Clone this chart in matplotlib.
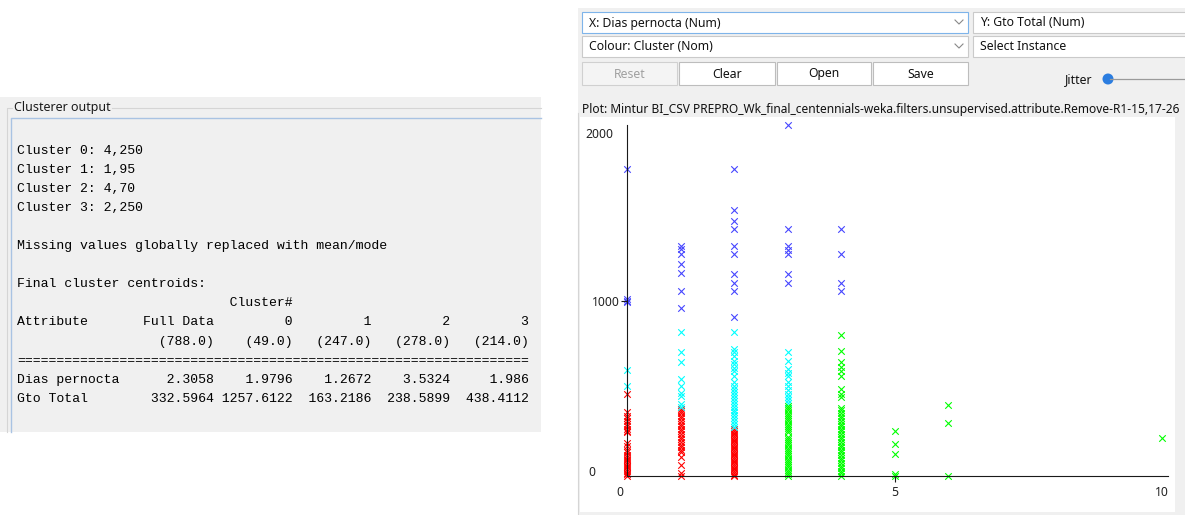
# Weka: salida de SimpleKMeans + gráfico de clusters (Dias pernocta vs Gto Total)
import matplotlib.pyplot as plt
from matplotlib.patches import Rectangle, Circle

# --- datos ---
# Gto Total de cada instancia, agrupado por Dias pernocta (clave)
cluster0_gto = {  # azul
    0: [1757, 1010, 1003, 995],
    1: [1314, 1295, 1267, 1210, 1162, 1057, 958],
    2: [1757, 1518, 1457, 1410, 1314, 1267, 1157, 1105, 1057, 911],
    3: [2006, 1410, 1314, 1290, 1267, 1157, 1105],
    4: [1410, 1267, 1105, 1057],
}
cluster1_gto = {  # rojo
    0: [466, 364, 345, 330, 315, 300, 285, 270, 258, 250, 186, 170, 150, 135,
        120, 110, 100, 90, 80, 70, 60, 50, 40, 30, 20, 10, 0],
    1: [381, 370, 360, 345, 330, 315, 300, 285, 270, 255, 240, 225, 210, 195,
        180, 165, 150, 135, 107, 61, 20, 0],
    2: [267, 258, 248, 238, 228, 218, 208, 198, 188, 178, 168, 158, 148, 138,
        128, 118, 108, 98, 88, 78, 68, 58, 48, 38, 28, 18, 8, 0],
}
cluster2_gto = {  # verde
    3: [400, 388, 375, 362, 350, 337, 325, 312, 300, 287, 275, 262, 250, 225,
        212, 200, 187, 175, 162, 150, 137, 125, 112, 100, 87, 75, 62, 50, 37,
        25, 12, 0],
    4: [806, 714, 650, 625, 600, 571, 496, 470, 450, 390, 375, 360, 345, 330,
        315, 300, 285, 270, 255, 240, 225, 210, 195, 180, 165, 150, 135, 120,
        105, 90, 75, 60, 45, 30, 15, 0],
    5: [257, 185, 124, 10, 0],
    6: [404, 305, 0],
    10: [215],
}
cluster3_gto = {  # cian
    0: [606, 514],
    1: [825, 709, 654, 557, 514, 473, 457, 410, 393],
    2: [825, 723, 708, 686, 657, 640, 620, 600, 571, 540, 514, 497, 480, 463,
        446, 430, 413, 396, 380, 363, 346, 330, 313, 297, 280],
    3: [711, 655, 610, 590, 571, 540, 514, 490, 470, 450, 432, 419],
}
cluster_colors = ["#4646ff", "#ff0000", "#00ff00", "#00ffff"]

output_lines = [
    "Cluster 0: 4,250",
    "Cluster 1: 1,95",
    "Cluster 2: 4,70",
    "Cluster 3: 2,250",
    "",
    "Missing values globally replaced with mean/mode",
    "",
    "Final cluster centroids:",
    "                           Cluster#",
    "Attribute       Full Data         0         1         2         3",
    "                  (788.0)    (49.0)   (247.0)   (278.0)   (214.0)",
    "=" * 65,
    "Dias pernocta      2.3058    1.9796    1.2672    3.5324     1.986",
    "Gto Total        332.5964 1257.6122  163.2186  238.5899  438.4112",
]

x_ticks = [0, 5, 10]
y_ticks = [0, 1000, 2000]

W, H = 1185, 515
fig = plt.figure(figsize=(W / 100, H / 100), dpi=100)
fig.patch.set_facecolor("white")

# capa de fondo en pixeles (y hacia abajo)
bg = fig.add_axes([0, 0, 1, 1])
bg.set_xlim(0, W)
bg.set_ylim(H, 0)
bg.axis("off")

ui_font = "Noto Sans"
gray = "#f0f0f0"

# --- panel izquierdo: Clusterer output ---
bg.add_patch(Rectangle((0, 97), 541, 335, facecolor=gray, edgecolor="none"))
bg.plot([7, 7, 12], [432, 108, 108], color="#d5d5d5", lw=0.8)
bg.plot([112, 541], [108, 108], color="#d5d5d5", lw=0.8)
bg.text(14, 107, "Clusterer output", fontsize=9, family=ui_font,
        va="center", color="#1a1a1a")
bg.plot([11, 11, 541], [432, 118, 118], color="#a9c3e3", lw=1.0)

y = 150.5
for line in output_lines:
    bg.text(17, y, line, fontsize=9.45, family="Liberation Mono",
            va="center", ha="left", color="#000000")
    y += 19.1

# --- panel derecho: controles ---
bg.add_patch(Rectangle((578, 8), W - 578, H - 8, facecolor=gray, edgecolor="none"))


def combo(x0, y0, w, text, edge="#cacaca", chevron=True):
    bg.add_patch(Rectangle((x0, y0), w, 21, facecolor="white", edgecolor=edge, lw=0.8))
    bg.text(x0 + 7, y0 + 11, text, fontsize=8.8, family=ui_font,
            va="center", color="#111111")
    if chevron:
        bg.plot([955, 959, 963], [y0 + 8, y0 + 12, y0 + 8], color="#888888", lw=0.8)


combo(582, 12, 386, "X: Dias pernocta (Num)", edge="#7eb4ea")
combo(973, 12, 230, "Y: Gto Total (Num)", chevron=False)
combo(582, 36, 386, "Colour: Cluster (Nom)")
combo(973, 36, 230, "Select Instance", chevron=False)

buttons = [("Reset", 582, 677), ("Clear", 679, 775), ("Open", 777, 871), ("Save", 873, 968)]
for label, x0, x1 in buttons:
    disabled = label == "Reset"
    bg.add_patch(Rectangle((x0, 62), x1 - x0, 23,
                           facecolor="#f4f4f4" if disabled else "white",
                           edgecolor="#d0d0d0" if disabled else "#bdbdbd", lw=0.8))
    bg.text((x0 + x1) / 2, 74, label, fontsize=8.8, family=ui_font,
            ha="center", va="center", color="#a0a0a0" if disabled else "#111111")

bg.text(1065, 80, "Jitter", fontsize=8.8, family=ui_font, va="center", color="#111111")
bg.plot([1110, W], [79, 79], color="#9a9a9a", lw=0.9)
bg.add_patch(Circle((1108, 79), 5.5, facecolor="#2b7de0", edgecolor="none"))

bg.text(582, 110, "Plot: Mintur BI_CSV PREPRO_Wk_final_centennials-weka.filters."
        "unsupervised.attribute.Remove-R1-15,17-26",
        fontsize=8.6, family=ui_font, va="center", color="#111111")
bg.plot([578, 578], [113, 515], color="#d5d5d5", lw=0.8)
bg.add_patch(Rectangle((580, 117), 595, 395, facecolor="white", edgecolor="none"))

# --- gráfico de dispersión ---
x0_px, x1_px = 627, 1167.5
y0_px, y1_px = 476, 125
ax = fig.add_axes([x0_px / W, (H - y0_px) / H, (x1_px - x0_px) / W, (y0_px - y1_px) / H])
ax.set_facecolor("none")
ax.set_xlim(0, 10.1)
ax.set_ylim(0, 2006)
for s in ["top", "right"]:
    ax.spines[s].set_visible(False)
for s in ["left", "bottom"]:
    ax.spines[s].set_color("#1a1a1a")
    ax.spines[s].set_linewidth(0.8)
ax.set_xticks([5])
ax.set_yticks([1000])
ax.tick_params(axis="both", length=4, width=0.8, color="#1a1a1a",
               labelleft=False, labelbottom=False)

for gto, color in zip([cluster1_gto, cluster3_gto, cluster2_gto, cluster0_gto],
                      [cluster_colors[1], cluster_colors[3], cluster_colors[2], cluster_colors[0]]):
    xs, ys = [], []
    for dias, vals in gto.items():
        xs += [dias] * len(vals)
        ys += vals
    ax.scatter(xs, ys, marker="x", s=22, linewidths=0.8, color=color, clip_on=False)

# etiquetas de ejes al estilo Weka
for v in x_ticks:
    dx = -7 if v == 0 else 0
    ax.annotate(str(v), xy=(v, 0), xytext=(dx, -16), textcoords="offset pixels",
                ha="center", va="center", fontsize=8.8, family=ui_font, color="#222222")
ax.annotate(str(y_ticks[0]), xy=(0, 0), xytext=(-39, 4), textcoords="offset pixels",
            ha="left", va="center", fontsize=8.8, family=ui_font, color="#222222")
ax.annotate(str(y_ticks[1]), xy=(0, 1000), xytext=(-7, -1), textcoords="offset pixels",
            ha="right", va="center", fontsize=8.8, family=ui_font, color="#222222")
ax.annotate(str(y_ticks[2]), xy=(0, 2000), xytext=(-14, -8), textcoords="offset pixels",
            ha="right", va="center", fontsize=8.8, family=ui_font, color="#222222")

plt.savefig("out.png", dpi=100)
